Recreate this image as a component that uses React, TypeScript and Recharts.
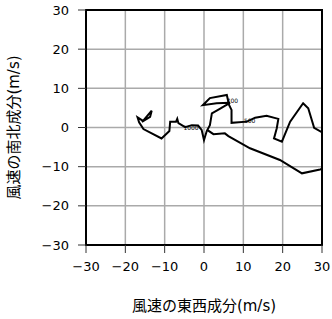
import React from 'react';
import {
  CartesianGrid,
  ComposedChart,
  Label,
  Line,
  ReferenceArea,
  ReferenceDot,
  XAxis,
  YAxis,
} from 'recharts';

// hodograph: east-west (u) and north-south (v) wind components, m/s
const uWind = [
  -15.8, -13.7, -13.3, -15.5, -16.9, -16.5, -15.4, -10.8, -8.8, -8.6, -7.1, -6.8, -6.5, -4.8,
  -3.1, -1.5, -0.6, 0.0, 0.7, 1.5, 2.0, 3.9, 6.6, 3.2, -0.3, 1.5, 5.8, 6.4, 7.0, 7.0, 10.9,
  13.0, 15.9, 18.9, 18.5, 17.8, 19.8, 21.9, 25.2, 26.5, 28.0, 29.8, 32.5, 32.5, 29.5, 24.9,
  19.3, 11.7, 6.2, 5.3, 2.4, 0.8,
];
const vWind = [
  1.4, 2.7, 4.3, 1.7, 2.6, 1.3, -0.4, -2.8, -0.9, 1.5, 1.5, 2.2, 1.1, 0.1,
  0.6, 0.5, -0.6, -3.2, -0.9, 0.6, 3.6, 4.7, 6.3, 6.2, 5.7, 7.5, 8.3, 5.7, 4.5, 1.2, 1.5,
  2.5, 3.0, 2.2, -0.2, -2.8, -3.6, 1.5, 6.2, 4.9, -0.1, -1.1, -1.8, -9.8, -10.7, -11.7,
  -8.3, -5.3, -2.2, -1.5, -1.7, -0.6,
];

const levelNames = ['1000', '700', '500'];
const levelU = [-3.3, 7.2, 11.6];
const levelV = [0.0, 7.0, 1.9];

const axisTicks = [-30, -20, -10, 0, 10, 20, 30];

const points = uWind.map((u, i) => ({ u, v: vWind[i] }));

const fmt = (v: number) => String(v).replace('-', '\u2212');
const tickStyle = { fontSize: 13, fontFamily: 'DejaVu Sans', fill: '#000' };
const titleFont = "'DejaVu Sans', 'Noto Sans CJK JP', sans-serif";

export default function App() {
  return (
    <div style={{ position: 'absolute', left: 0, top: 0 }}>
      <ComposedChart
        width={332}
        height={319}
        data={points}
        margin={{ top: 10, right: 10, left: 0, bottom: 0 }}
      >
        <CartesianGrid stroke="#aaa" strokeWidth={1.5} />
        <XAxis
          type="number"
          dataKey="u"
          domain={[-30, 30]}
          ticks={axisTicks}
          allowDataOverflow
          height={74}
          axisLine={false}
          tickLine={{ stroke: '#333' }}
          tickSize={8}
          tickMargin={9}
          tick={tickStyle}
          tickFormatter={fmt}
          interval={0}
        >
          <Label
            content={(props: any) => {
              const vb = props.viewBox;
              return (
                <text
                  x={vb.x + vb.width / 2}
                  y={vb.y + 66}
                  textAnchor="middle"
                  fontSize={15}
                  fontFamily={titleFont}
                  fill="#000"
                >
                  風速の東西成分(m/s)
                </text>
              );
            }}
          />
        </XAxis>
        <YAxis
          type="number"
          dataKey="v"
          domain={[-30, 30]}
          ticks={axisTicks}
          allowDataOverflow
          width={86}
          axisLine={false}
          tickLine={{ stroke: '#333' }}
          tickSize={8}
          tickMargin={9}
          tick={tickStyle}
          tickFormatter={fmt}
          interval={0}
        >
          <Label
            content={(props: any) => {
              const vb = props.viewBox;
              const cx = 19;
              const cy = vb.y + vb.height / 2;
              return (
                <text
                  x={cx}
                  y={cy}
                  textAnchor="middle"
                  transform={`rotate(-90 ${cx} ${cy})`}
                  fontSize={15}
                  fontFamily={titleFont}
                  fill="#000"
                >
                  風速の南北成分(m/s)
                </text>
              );
            }}
          />
        </YAxis>
        <Line
          type="linear"
          dataKey="v"
          stroke="#000"
          strokeWidth={2}
          dot={false}
          isAnimationActive={false}
        />
        {levelNames.map((name, i) => (
          <ReferenceDot
            key={name}
            x={levelU[i]}
            y={levelV[i]}
            r={0}
            shape={(p: any) => (
              <text
                x={p.cx}
                y={p.cy}
                textAnchor="middle"
                dominantBaseline="central"
                fontSize={6}
                fontFamily="DejaVu Sans"
                fill="#000"
              >
                {name}
              </text>
            )}
          />
        ))}
        <ReferenceArea
          x1={-30}
          x2={30}
          y1={-30}
          y2={30}
          fill="none"
          fillOpacity={0}
          stroke="#000"
          strokeWidth={2}
        />
      </ComposedChart>
    </div>
  );
}
